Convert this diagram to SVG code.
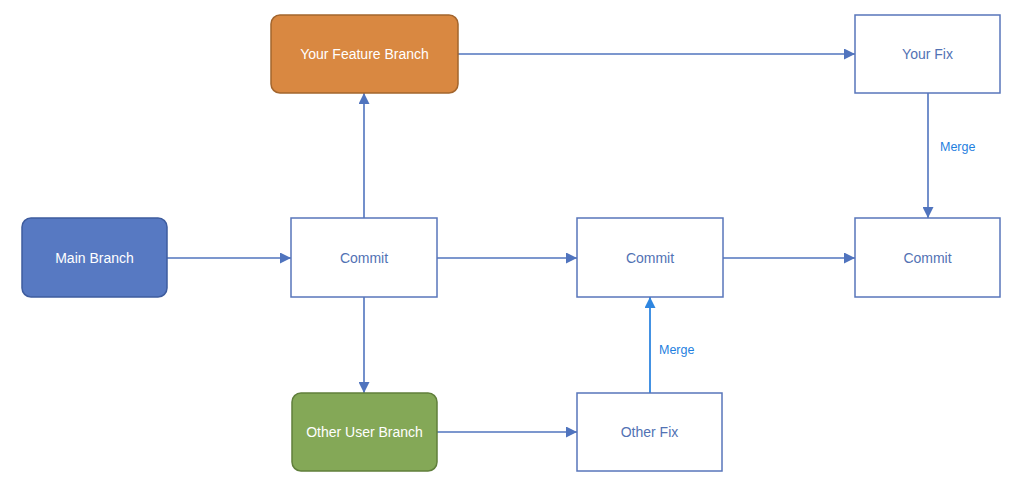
<svg xmlns="http://www.w3.org/2000/svg" width="1012" height="485" viewBox="0 0 1012 485">
<defs>
<style>
.plain{fill:#fff;stroke:#5876bb;stroke-width:1.5}
.lbl{font-family:"Liberation Sans",Arial,sans-serif;font-size:14px;text-anchor:middle;dominant-baseline:central}
.dark{fill:#5272b4}
.white{fill:#fff}
.edge{fill:none;stroke:#5074be;stroke-width:1.6}
.merge{fill:none;stroke:#2f86e0;stroke-width:1.8}
.mlbl{font-family:"Liberation Sans",Arial,sans-serif;font-size:12.5px;fill:#1f7fe0}
</style>
<marker id="ah" viewBox="0 0 10 10" refX="10" refY="5" markerWidth="11" markerHeight="11" markerUnits="userSpaceOnUse" orient="auto"><path d="M0,0 L10,5 L0,10 z" fill="#5074be"/></marker>
<marker id="ahb" viewBox="0 0 10 10" refX="10" refY="5" markerWidth="11" markerHeight="11" markerUnits="userSpaceOnUse" orient="auto"><path d="M0,0 L10,5 L0,10 z" fill="#2f86e0"/></marker>
</defs>
<rect width="1012" height="485" fill="#fff"/>
<g id="connectors">
<path class="edge" d="M167,258 H291" marker-end="url(#ah)"/>
<path class="edge" d="M364,218 V93" marker-end="url(#ah)"/>
<path class="edge" d="M458,54 H855" marker-end="url(#ah)"/>
<path class="edge" d="M364,297 V393" marker-end="url(#ah)"/>
<path class="edge" d="M437,258 H577" marker-end="url(#ah)"/>
<path class="edge" d="M723,258 H855" marker-end="url(#ah)"/>
<path class="edge" d="M437,432 H577" marker-end="url(#ah)"/>
<path class="edge" d="M928,93 V218" marker-end="url(#ah)"/>
<path class="merge" d="M650,393 V297" marker-end="url(#ahb)"/>
<text class="mlbl" x="940" y="151">Merge</text>
<text class="mlbl" x="659" y="354">Merge</text>
</g>
<g id="main">
<rect x="22" y="218" width="145" height="79" rx="9" fill="#5779c2" stroke="#3e5c9e" stroke-width="1.5"/>
<text class="lbl white" x="94.5" y="258">Main Branch</text>
</g>
<g id="feature">
<rect x="271" y="15" width="187" height="78" rx="9" fill="#d98841" stroke="#a3652d" stroke-width="1.5"/>
<text class="lbl white" x="364.5" y="54">Your Feature Branch</text>
</g>
<g id="other-user">
<rect x="292" y="393" width="145" height="78" rx="9" fill="#84a857" stroke="#607f3b" stroke-width="1.5"/>
<text class="lbl white" x="364.5" y="432">Other User Branch</text>
</g>
<g id="commit1">
<rect class="plain" x="291" y="218" width="146" height="79"/>
<text class="lbl dark" x="364" y="258">Commit</text>
</g>
<g id="commit2">
<rect class="plain" x="577" y="218" width="146" height="79"/>
<text class="lbl dark" x="650" y="258">Commit</text>
</g>
<g id="commit3">
<rect class="plain" x="855" y="218" width="145" height="79"/>
<text class="lbl dark" x="927.5" y="258">Commit</text>
</g>
<g id="your-fix">
<rect class="plain" x="855" y="15" width="145" height="78"/>
<text class="lbl dark" x="927.5" y="54">Your Fix</text>
</g>
<g id="other-fix">
<rect class="plain" x="577" y="393" width="145" height="78"/>
<text class="lbl dark" x="649.5" y="432">Other Fix</text>
</g>
</svg>
